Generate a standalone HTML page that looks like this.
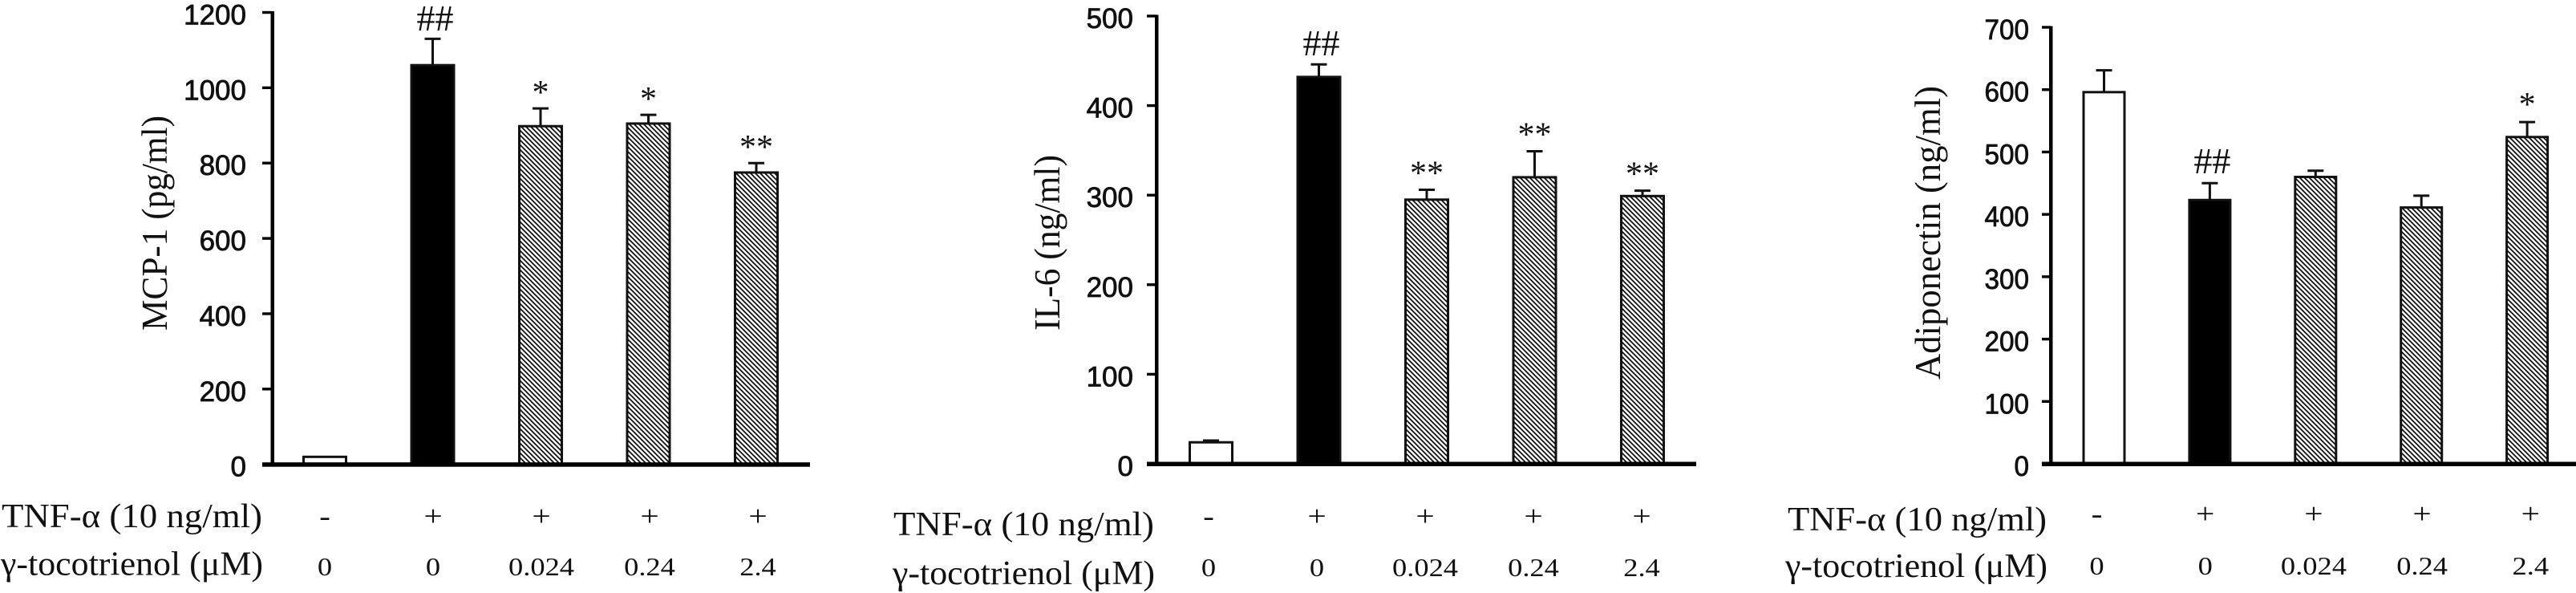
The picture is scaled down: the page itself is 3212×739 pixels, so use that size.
<!DOCTYPE html>
<html lang="en">
<head>
<meta charset="utf-8">
<title>TNF-α and γ-tocotrienol bar charts</title>
<style>
html,body{margin:0;padding:0;background:#fff;width:3212px;height:739px;overflow:hidden}
svg{display:block}
.serif{font-family:"Liberation Serif","Noto Serif CJK SC",serif;fill:#111}
.sans{font-family:"Liberation Sans","Noto Sans CJK SC",sans-serif;fill:#111}
</style>
</head>
<body>
<svg id="figure" xmlns="http://www.w3.org/2000/svg" width="3212" height="739" viewBox="0 0 3212 739">
  <defs>
    <pattern id="hatch" patternUnits="userSpaceOnUse" width="6" height="6">
      <rect width="6" height="6" fill="#fff"/>
      <path d="M-1.5,4.5 L1.5,7.5 M0,0 L6,6 M4.5,-1.5 L7.5,1.5" stroke="#111" stroke-width="1.8"/>
    </pattern>
  </defs>
  <rect width="3212" height="739" fill="#fff"/>

  <text class="serif" font-size="46" textLength="268" lengthAdjust="spacingAndGlyphs" transform="translate(208,412) rotate(-90)">MCP-1 (pg/ml)</text>
  <text class="serif" font-size="46" textLength="219" lengthAdjust="spacingAndGlyphs" transform="translate(1321,412) rotate(-90)">IL-6 (ng/ml)</text>
  <text class="serif" font-size="46" textLength="366" lengthAdjust="spacingAndGlyphs" transform="translate(2419,473) rotate(-90)">Adiponectin (ng/ml)</text>

  <text class="serif" x="2" y="657" font-size="42" textLength="325" lengthAdjust="spacingAndGlyphs">TNF-α (10 ng/ml)</text>
  <text class="serif" x="1" y="716.5" font-size="42" textLength="327" lengthAdjust="spacingAndGlyphs">γ-tocotrienol (μM)</text>
  <text class="serif" x="1114" y="667" font-size="42" textLength="325" lengthAdjust="spacingAndGlyphs">TNF-α (10 ng/ml)</text>
  <text class="serif" x="1113" y="728" font-size="42" textLength="327" lengthAdjust="spacingAndGlyphs">γ-tocotrienol (μM)</text>
  <text class="serif" x="2229" y="661" font-size="42" textLength="323" lengthAdjust="spacingAndGlyphs">TNF-α (10 ng/ml)</text>
  <text class="serif" x="2226" y="719" font-size="42" textLength="327" lengthAdjust="spacingAndGlyphs">γ-tocotrienol (μM)</text>
</svg>

<script>
// Shared categories
const tnfLabels = ['-', '+', '+', '+', '+'];
const doseLabels = ['0', '0', '0.024', '0.24', '2.4'];
const barKinds = ['white', 'black', 'hatch', 'hatch', 'hatch'];

// MCP-1 (pg/ml)
const mcpValues = [20, 1060, 898, 905, 775];
const mcpErrors = [0, 70, 47, 23, 25];
const mcpMarks = ['', '##', '*', '*', '**'];
const mcpTicks = [0, 200, 400, 600, 800, 1000, 1200];

// IL-6 (ng/ml)
const il6Values = [24, 432, 295, 320, 299];
const il6Errors = [2, 14, 11, 29, 6];
const il6Marks = ['', '##', '**', '**', '**'];
const il6Ticks = [0, 100, 200, 300, 400, 500];

// Adiponectin (ng/ml)
const adipoValues = [596, 423, 460, 411, 524];
const adipoErrors = [35, 27, 10, 19, 24];
const adipoMarks = ['', '##', '', '', '*'];
const adipoTicks = [0, 100, 200, 300, 400, 500, 600, 700];

const SVG_NS = 'http://www.w3.org/2000/svg';
const svg = document.getElementById('figure');

function add(tag, attrs, text) {
  const el = document.createElementNS(SVG_NS, tag);
  for (const k in attrs) el.setAttribute(k, attrs[k]);
  if (text !== undefined) el.textContent = text;
  svg.appendChild(el);
  return el;
}

function drawChart(id, values, errors, marks, ticks, f) {
  const yScale = v => f.y0 - v * (f.y0 - f.yTop) / ticks[ticks.length - 1];
  const barX = i => f.barStart + i * f.barStep;
  const colX = i => f.colStart + i * f.colStep;

  // axes
  const yAxis = add('rect', {x: f.axisX - 2, y: f.yTop - 1.5, width: 4.5, height: f.y0 - f.yTop + 3, fill: '#000'});
  
  

  ticks.forEach(t => {
    const tick = add('rect', {x: f.tickLeft, y: yScale(t) - 1.7, width: f.axisX - f.tickLeft, height: 3.4, fill: '#000'});
    
    

    const label = add('text', {
      class: 'sans', 'font-size': 35, stroke: '#111', 'stroke-width': 0.8, 'text-anchor': 'end',
      transform: 'translate(' + f.labelRight + ',' + (yScale(t) + 15) + ') scale(' + f.tickStretch + ',1)'
    }, String(t));
    
    
  });

  // bars, error bars, significance marks
  values.forEach((v, i) => {
    const cx = barX(i);
    const top = yScale(v);
    const errTop = yScale(v + errors[i]);

    if (errors[i] > 0) {
      const stem = add('line', {x1: cx, x2: cx, y1: errTop, y2: top, stroke: '#111', 'stroke-width': 3});
      
      

      const cap = add('line', {x1: cx - 10, x2: cx + 10, y1: errTop, y2: errTop, stroke: '#111', 'stroke-width': 3});
      
      
    }

    const kind = barKinds[i];
    const fill = kind === 'white' ? '#fff' : kind === 'black' ? '#000' : 'url(#hatch)';
    const bar = add('rect', {
      x: cx - f.barWidth / 2 + 1.5, y: top, width: f.barWidth - 3, height: f.y0 - top,
      fill: fill, stroke: '#111', 'stroke-width': 3
    });
    
    

    if (marks[i]) {
      const isHash = marks[i][0] === '#';
      const centre = errTop - f.markGap;
      const mark = add('text', {
        class: 'serif', x: cx + (isHash ? 3 : 0), y: centre + (isHash ? 15.5 : 20),
        'font-size': isHash ? 46 : 42, 'text-anchor': 'middle'
      }, marks[i]);
      
      
    }
  });

  const xAxis = add('rect', {x: f.tickLeft, y: f.y0 - 2.5, width: f.axisRight - f.tickLeft, height: 5.5, fill: '#000'});
  
  

  // category rows
  tnfLabels.forEach((t, i) => {
    const sign = add('text', {
      class: 'serif', 'font-size': 36, 'text-anchor': 'middle',
      transform: 'translate(' + colX(i) + ',' + f.tnfBaseline + ') scale(1.15,1)'
    }, t);
    
    
  });

  doseLabels.forEach((d, i) => {
    const dose = add('text', {
      class: 'serif', 'font-size': 32, 'text-anchor': 'middle',
      transform: 'translate(' + colX(i) + ',' + f.doseBaseline + ') scale(' + f.doseStretch + ',1)'
    }, d);
    
    
  });
}

drawChart('mcp1', mcpValues, mcpErrors, mcpMarks, mcpTicks, {
  y0: 578.7, yTop: 15.5, axisX: 339.5, tickLeft: 327, axisRight: 1010, labelRight: 307, tickStretch: 1,
  barStart: 405, barStep: 134.5, barWidth: 56, colStart: 405, colStep: 135,
  markGap: 26, tnfBaseline: 655, doseBaseline: 717, doseStretch: 1.14
});
drawChart('il6', il6Values, il6Errors, il6Marks, il6Ticks, {
  y0: 578, yTop: 20, axisX: 1442, tickLeft: 1430, axisRight: 2115, labelRight: 1413, tickStretch: 1,
  barStart: 1510, barStep: 134.5, barWidth: 56, colStart: 1507, colStep: 135,
  markGap: 27, tnfBaseline: 655, doseBaseline: 718, doseStretch: 1.14
});
drawChart('adiponectin', adipoValues, adipoErrors, adipoMarks, adipoTicks, {
  y0: 578, yTop: 34, axisX: 2557, tickLeft: 2546, axisRight: 3212, labelRight: 2530, tickStretch: 0.95,
  barStart: 2623.5, barStep: 131.9, barWidth: 54, colStart: 2614.5, colStep: 135.2,
  markGap: 28, tnfBaseline: 652, doseBaseline: 716, doseStretch: 1.14
});
</script>
</body>
</html>
